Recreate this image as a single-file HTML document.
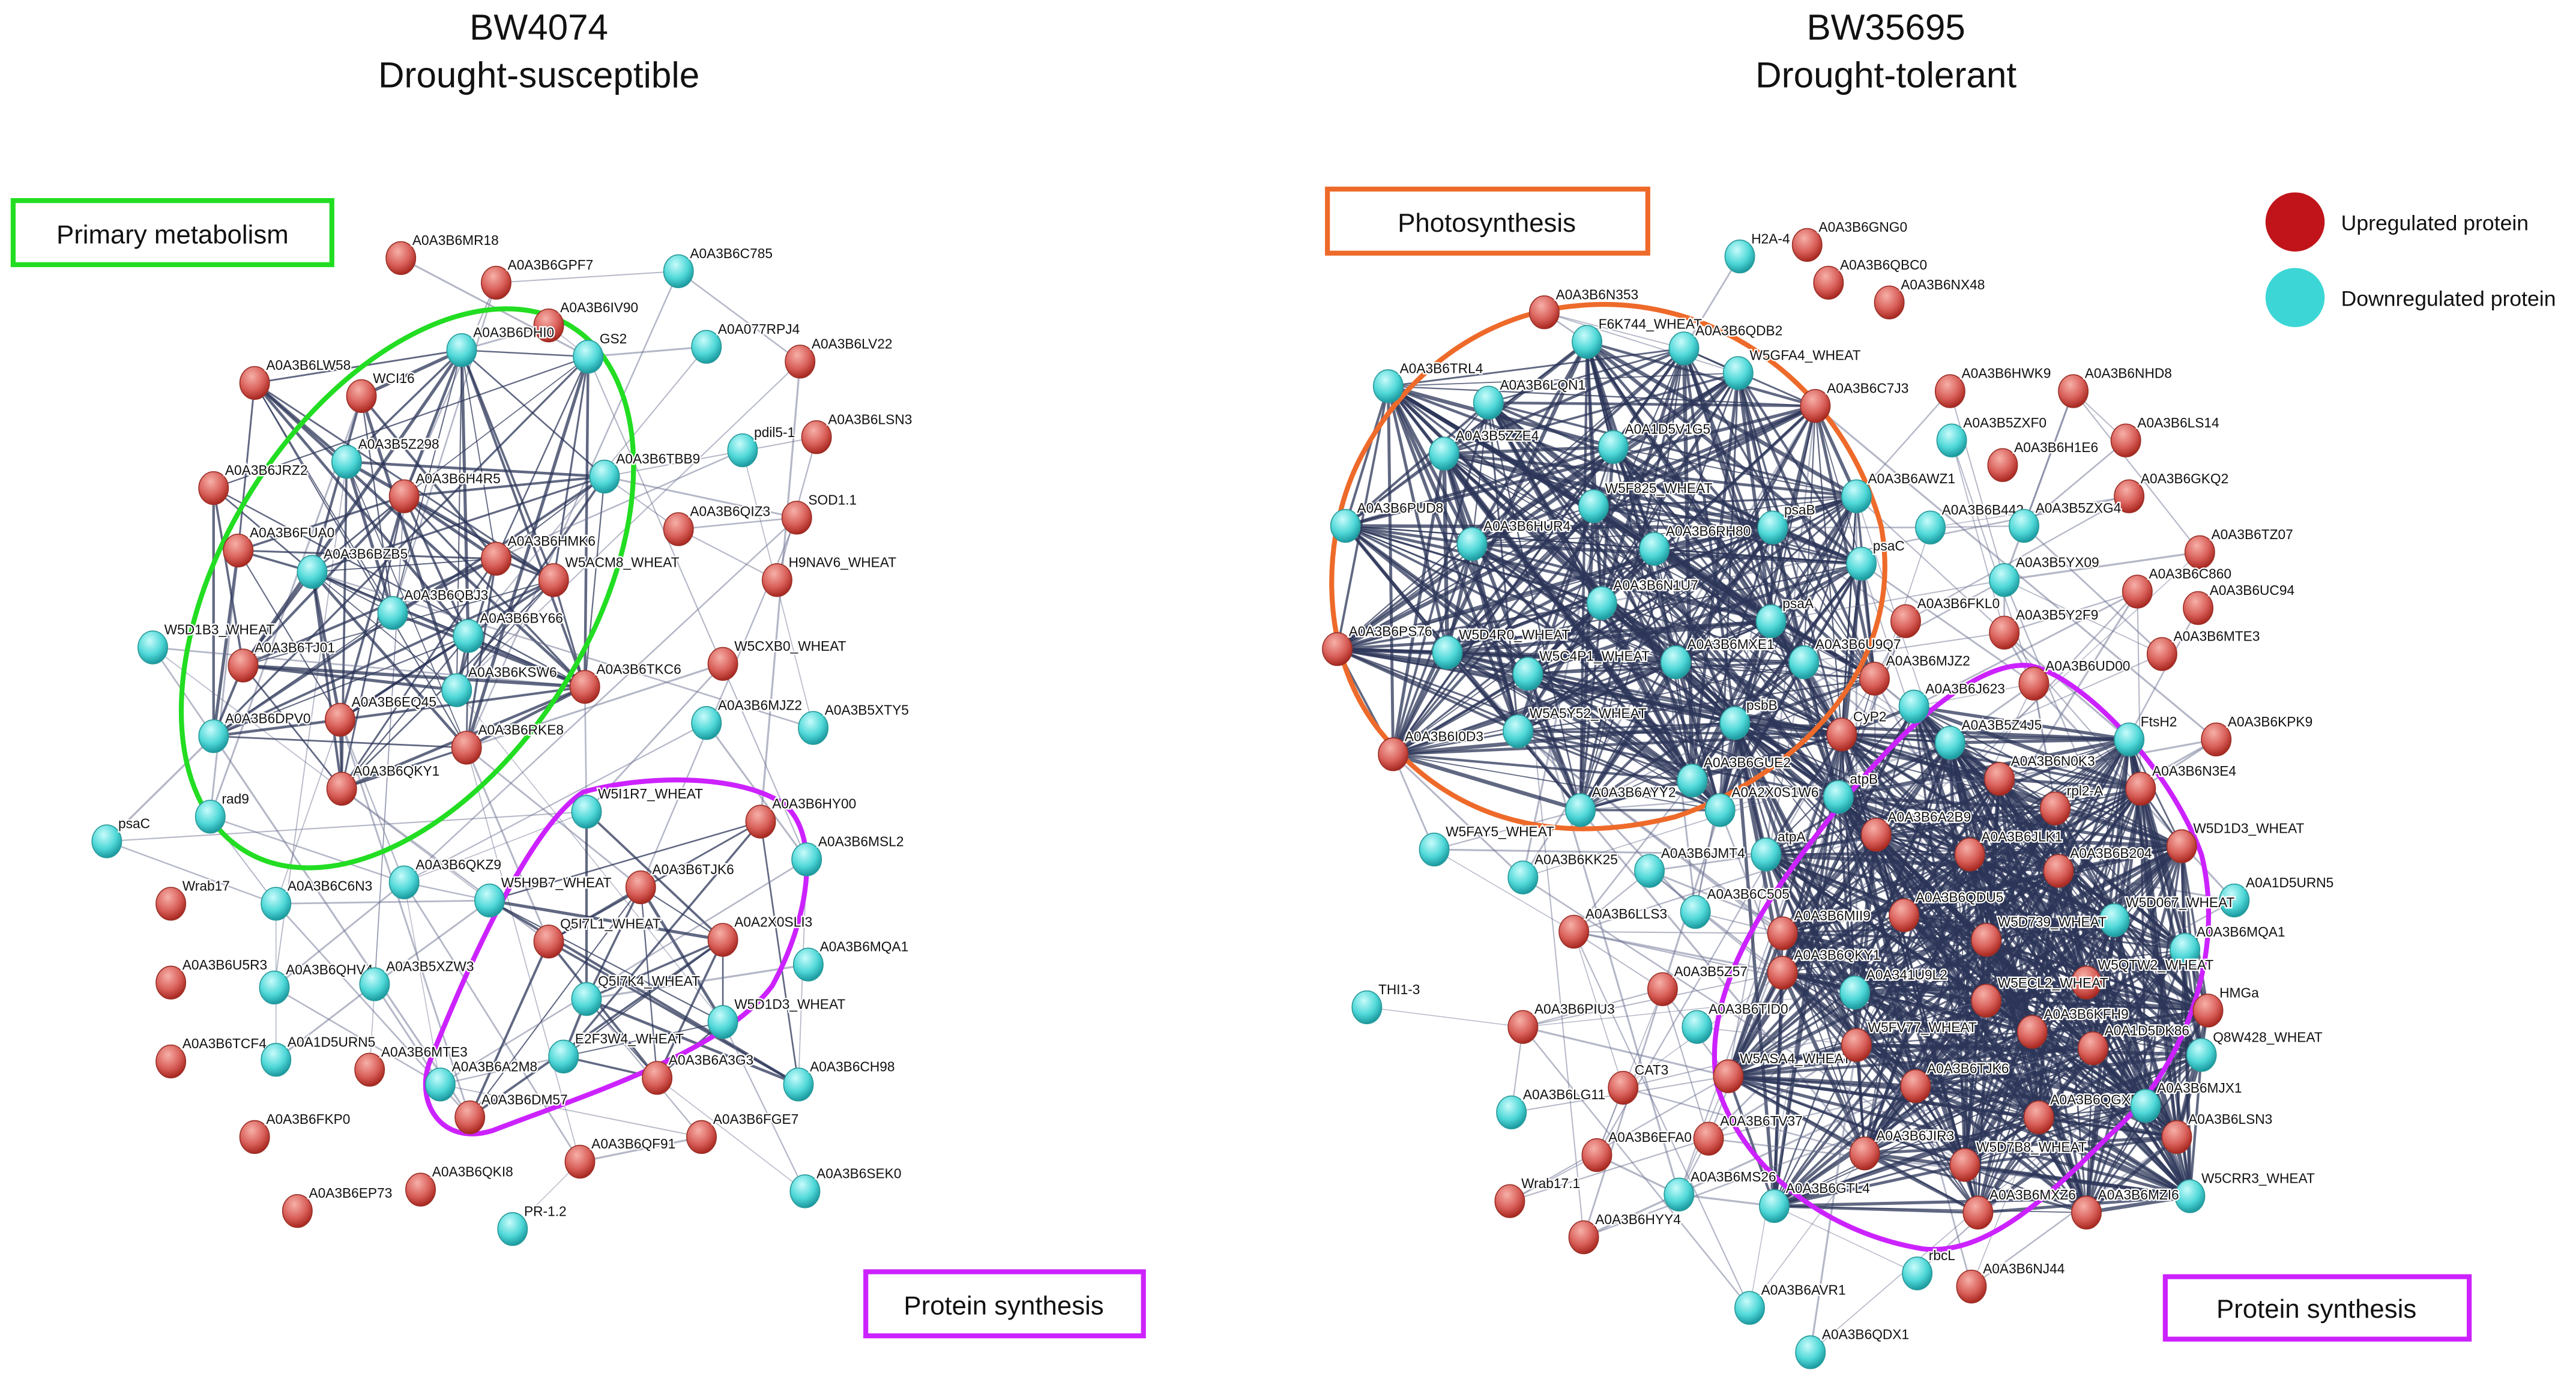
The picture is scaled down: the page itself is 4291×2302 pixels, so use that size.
<!DOCTYPE html>
<html><head><meta charset="utf-8"><style>
html,body{margin:0;padding:0;background:#fff;}
svg{display:block}
text{font-family:"Liberation Sans",sans-serif;}
</style></head><body>
<svg id="s" width="4291" height="2302" viewBox="0 0 1568 841" xmlns="http://www.w3.org/2000/svg">
<defs>
<radialGradient id="gr" cx="0.4" cy="0.3" r="0.7"><stop offset="0" stop-color="#f6b0a8"/><stop offset="0.6" stop-color="#d9605a"/><stop offset="1" stop-color="#a82820"/></radialGradient>
<radialGradient id="gc" cx="0.4" cy="0.3" r="0.7"><stop offset="0" stop-color="#c8fbfb"/><stop offset="0.6" stop-color="#50d8d8"/><stop offset="1" stop-color="#1a9aa0"/></radialGradient>
</defs>
<g id="edges"></g>
<g fill="none" stroke-width="3">
<ellipse cx="248" cy="358" rx="188" ry="112" transform="rotate(-58 248 358)" stroke="#22dd22"/>
<path d="M355,482 C390,472 450,470 478,490 C500,510 492,560 470,600 C440,640 360,665 300,688 C268,698 252,670 262,645 C280,600 320,505 355,482 Z" stroke="#cc22ff"/>
<path d="M960,186 C1040,178 1120,230 1145,320 C1160,400 1100,470 1020,497 C940,517 880,495 840,445 C800,395 805,320 830,275 C860,220 910,190 960,186 Z" stroke="#ee6a2a"/>
<path d="M1235,405 C1265,410 1320,465 1340,520 C1355,580 1330,650 1285,690 C1250,725 1210,765 1170,760 C1110,750 1060,710 1045,660 C1035,600 1080,540 1120,490 C1160,440 1205,402 1235,405 Z" stroke="#cc22ff"/>
</g>
<g id="nodes"></g>
<g font-size="22" text-anchor="middle" fill="#111">
<text x="328" y="24">BW4074</text><text x="328" y="53">Drought-susceptible</text>
<text x="1148" y="24">BW35695</text><text x="1148" y="53">Drought-tolerant</text>
</g>
<g fill="#fff" stroke-width="3">
<rect x="8" y="122" width="194" height="39" stroke="#22dd22"/>
<rect x="808" y="115" width="195" height="39" stroke="#ee6a2a"/>
<rect x="527" y="774" width="169" height="39" stroke="#cc22ff"/>
<rect x="1318" y="777" width="185" height="38" stroke="#cc22ff"/>
</g>
<g font-size="16" text-anchor="middle" fill="#111">
<text x="105" y="148">Primary metabolism</text>
<text x="905" y="141">Photosynthesis</text>
<text x="611" y="800">Protein synthesis</text>
<text x="1410" y="802">Protein synthesis</text>
</g>
<circle cx="1397" cy="135" r="18" fill="#c0141a"/>
<circle cx="1397" cy="181" r="18" fill="#3dd6d6"/>
<text x="1425" y="140" font-size="13" fill="#111">Upregulated protein</text>
<text x="1425" y="186" font-size="13" fill="#111">Downregulated protein</text>
</svg>
<script>
var L=[["A0A3B6MR18",244,157,"r"],["A0A3B6GPF7",302,172,"r"],["A0A3B6C785",413,165,"c"],["A0A3B6IV90",334,198,"r"],["A0A3B6LW58",155,233,"r"],["WCI16",220,241,"r"],["A0A3B6DHI0",281,213,"c"],["GS2",358,217,"c"],["A0A077RPJ4",430,211,"c"],["A0A3B6LV22",487,220,"r"],["A0A3B6JRZ2",130,297,"r"],["A0A3B5Z298",211,281,"c"],["A0A3B6H4R5",246,302,"r"],["A0A3B6TBB9",368,290,"c"],["pdil5-1",452,274,"c"],["A0A3B6LSN3",497,266,"r"],["SOD1.1",485,315,"r"],["A0A3B6FUA0",145,335,"r"],["A0A3B6HMK6",302,340,"r"],["A0A3B6QIZ3",413,322,"r"],["W5ACM8_WHEAT",337,353,"r"],["H9NAV6_WHEAT",473,353,"r"],["A0A3B6BZB5",190,348,"c"],["A0A3B6QBJ3",239,373,"c"],["A0A3B6BY66",285,387,"c"],["W5D1B3_WHEAT",93,394,"c"],["A0A3B6TJ01",148,405,"r"],["A0A3B6KSW6",278,420,"c"],["A0A3B6TKC6",356,418,"r"],["W5CXB0_WHEAT",440,404,"r"],["A0A3B6EQ45",207,438,"r"],["A0A3B6DPV0",130,448,"c"],["A0A3B6RKE8",284,455,"r"],["A0A3B6MJZ2",430,440,"c"],["A0A3B5XTY5",495,443,"c"],["A0A3B6QKY1",208,480,"r"],["psaC",65,512,"c"],["rad9",128,497,"c"],["W5I1R7_WHEAT",357,494,"c"],["A0A3B6HY00",463,500,"r"],["A0A3B6QKZ9",246,537,"c"],["A0A3B6TJK6",390,540,"r"],["A0A3B6MSL2",491,523,"c"],["Wrab17",104,550,"r"],["A0A3B6C6N3",168,550,"c"],["W5H9B7_WHEAT",298,548,"c"],["Q5I7L1_WHEAT",334,573,"r"],["A0A2X0SLI3",440,572,"r"],["A0A3B6QHV4",167,601,"c"],["A0A3B5XZW3",228,599,"c"],["A0A3B6U5R3",104,598,"r"],["A0A3B6MQA1",492,587,"c"],["Q5I7K4_WHEAT",357,608,"c"],["W5D1D3_WHEAT",440,622,"c"],["A0A3B6TCF4",104,646,"r"],["A0A1D5URN5",168,645,"c"],["A0A3B6MTE3",225,651,"r"],["E2F3W4_WHEAT",343,643,"c"],["A0A3B6A2M8",268,660,"c"],["A0A3B6DM57",286,680,"r"],["A0A3B6A3G3",400,656,"r"],["A0A3B6CH98",486,660,"c"],["A0A3B6FKP0",155,692,"r"],["A0A3B6FGE7",427,692,"r"],["A0A3B6QF91",353,707,"r"],["A0A3B6EP73",181,737,"r"],["A0A3B6QKI8",256,724,"r"],["A0A3B6SEK0",490,725,"c"],["PR-1.2",312,748,"c"]];
var R=[["H2A-4",1059,156,"c"],["A0A3B6GNG0",1100,149,"r"],["A0A3B6QBC0",1113,172,"r"],["A0A3B6NX48",1150,184,"r"],["A0A3B6N353",940,190,"r"],["F6K744_WHEAT",966,208,"c"],["A0A3B6QDB2",1025,212,"c"],["W5GFA4_WHEAT",1058,227,"c"],["A0A3B6TRL4",845,235,"c"],["A0A3B6LQN1",906,245,"c"],["A0A3B6C7J3",1105,247,"r"],["A0A3B6HWK9",1187,238,"r"],["A0A3B6NHD8",1262,238,"r"],["A0A3B6LS14",1294,268,"r"],["A0A3B5ZZE4",879,276,"c"],["A0A1D5V1G5",982,272,"c"],["A0A3B5ZXF0",1188,268,"c"],["A0A3B6H1E6",1219,283,"r"],["A0A3B6AWZ1",1130,302,"c"],["A0A3B6GKQ2",1296,302,"r"],["A0A3B6PUD8",819,320,"c"],["W5F825_WHEAT",970,308,"c"],["psaB",1079,321,"c"],["A0A3B6B442",1175,321,"c"],["A0A3B5ZXG4",1232,320,"c"],["A0A3B6HUR4",896,331,"c"],["A0A3B6RH80",1007,334,"c"],["psaC",1133,343,"c"],["A0A3B6TZ07",1339,336,"r"],["A0A3B6N1U7",975,367,"c"],["psaA",1078,378,"c"],["A0A3B5YX09",1220,353,"c"],["A0A3B6C860",1301,360,"r"],["A0A3B6FKL0",1160,378,"r"],["A0A3B6UC94",1338,370,"r"],["A0A3B6PS76",814,395,"r"],["W5D4R0_WHEAT",881,397,"c"],["A0A3B6MXE1",1020,403,"c"],["A0A3B6U9Q7",1098,403,"c"],["A0A3B5Y2F9",1220,385,"r"],["A0A3B6MTE3",1316,398,"r"],["W5C4P1_WHEAT",930,410,"c"],["A0A3B6UD00",1238,416,"r"],["A0A3B6MJZ2",1141,413,"r"],["A0A3B6J623",1165,430,"c"],["A0A3B6KPK9",1349,450,"r"],["psbB",1056,440,"c"],["W5A5Y52_WHEAT",924,445,"c"],["CyP2",1121,447,"r"],["A0A3B6I0D3",848,459,"r"],["A0A3B5Z4J5",1187,452,"c"],["FtsH2",1296,450,"c"],["A0A3B6N0K3",1217,474,"r"],["A0A3B6N3E4",1303,480,"r"],["A0A3B6GUE2",1030,475,"c"],["rpl2-A",1251,492,"r"],["A0A3B6AYY2",962,493,"c"],["atpB",1119,485,"c"],["A0A2X0S1W6",1047,493,"c"],["A0A3B6A2B9",1142,508,"r"],["A0A3B6JLK1",1199,520,"r"],["A0A3B6B204",1253,530,"r"],["W5D1D3_WHEAT",1328,515,"r"],["W5FAY5_WHEAT",873,517,"c"],["A0A3B6JMT4",1004,530,"c"],["atpA",1075,520,"c"],["A0A3B6KK25",927,534,"c"],["A0A1D5URN5",1360,548,"c"],["A0A3B6C505",1032,555,"c"],["A0A3B6QDU5",1159,557,"r"],["W5D067_WHEAT",1287,560,"c"],["A0A3B6LLS3",958,567,"r"],["A0A3B6MII9",1085,568,"r"],["W5D739_WHEAT",1209,572,"r"],["A0A3B6MQA1",1330,578,"c"],["A0A3B6QKY1",1085,592,"r"],["W5QTW2_WHEAT",1270,598,"r"],["A0A3B5Z57",1012,602,"r"],["A0A341U9L2",1129,604,"c"],["HMGa",1344,615,"r"],["THI1-3",832,613,"c"],["A0A3B6PIU3",927,625,"r"],["A0A3B6TID0",1033,625,"c"],["W5ECL2_WHEAT",1209,609,"r"],["A0A3B6KFH9",1237,628,"r"],["Q8W428_WHEAT",1340,642,"c"],["A0A1D5DK86",1274,638,"r"],["W5ASA4_WHEAT",1052,655,"r"],["W5FV77_WHEAT",1130,636,"r"],["A0A3B6TJK6",1166,661,"r"],["A0A3B6QGX5",1241,680,"r"],["A0A3B6MJX1",1306,673,"c"],["A0A3B6LG11",920,677,"c"],["CAT3",988,662,"r"],["A0A3B6TV37",1040,693,"r"],["A0A3B6LSN3",1325,692,"r"],["A0A3B6JIR3",1135,702,"r"],["W5D7B8_WHEAT",1196,709,"r"],["A0A3B6EFA0",972,703,"r"],["W5CRR3_WHEAT",1333,728,"c"],["A0A3B6MS26",1022,727,"c"],["A0A3B6GTL4",1080,734,"c"],["A0A3B6MXZ6",1204,738,"r"],["A0A3B6MZI6",1270,738,"r"],["Wrab17.1",919,731,"r"],["A0A3B6HYY4",964,753,"r"],["rbcL",1167,775,"c"],["A0A3B6NJ44",1200,783,"r"],["A0A3B6AVR1",1065,796,"c"],["A0A3B6QDX1",1102,823,"c"]];
var seed=12345;function rnd(){seed=(seed*1103515245+12345)%2147483648;return seed/2147483648;}
var NS="http://www.w3.org/2000/svg",E=document.getElementById("edges"),N=document.getElementById("nodes");
function inL(x,y){return x>120&&x<380&&y>200&&y<490}
function inP(x,y){return x>280&&x<490&&y>480&&y<690}
function inO(x,y){return x>810&&x<1145&&y>190&&y<500}
function inM(x,y){return x>1050&&x<1345&&y>420&&y<760}
function edges(arr,dense1,dense2,far,pd,wd){
 for(var i=0;i<arr.length;i++)for(var j=i+1;j<arr.length;j++){
  var a=arr[i],b=arr[j],d=Math.hypot(a[1]-b[1],a[2]-b[2]);
  var same=(dense1(a[1],a[2])&&dense1(b[1],b[2]))||(dense2(a[1],a[2])&&dense2(b[1],b[2]));
  var p=same?pd:(d<far?0.2:0.03);
  if(d>350)p=0;
  if(rnd()<p){var l=document.createElementNS(NS,"line");
   l.setAttribute("x1",a[1]);l.setAttribute("y1",a[2]);l.setAttribute("x2",b[1]);l.setAttribute("y2",b[2]);
   var w=same?(0.6+rnd()*wd):(0.5+rnd()*0.7);
   l.setAttribute("stroke",same?"#2c3558":"#6a7090");l.setAttribute("stroke-width",w);l.setAttribute("stroke-opacity",same?0.75:0.5);
   E.appendChild(l);}
 }}
var Lc=L.filter(function(n){return !(n[1]<120&&n[2]>540)&&!(n[2]>680&&(n[1]<270))});
edges(Lc,inL,inP,140,0.42,1.4);
var Rc=R.filter(function(n){return n[2]>185||n[1]<1080});
edges(Rc,inO,inM,130,0.7,1.8);
function nodes(arr){arr.forEach(function(n){
 var e=document.createElementNS(NS,"ellipse");e.setAttribute("cx",n[1]);e.setAttribute("cy",n[2]);e.setAttribute("rx",9);e.setAttribute("ry",10);
 e.setAttribute("fill",n[3]=="r"?"url(#gr)":"url(#gc)");e.setAttribute("stroke",n[3]=="r"?"#9a3028":"#2a9a9a");e.setAttribute("stroke-width",0.6);N.appendChild(e);
 var t=document.createElementNS(NS,"text");t.setAttribute("x",n[1]+7);t.setAttribute("y",n[2]-8);t.setAttribute("font-size","8.3");t.setAttribute("fill","#111");
 t.setAttribute("stroke","#fff");t.setAttribute("stroke-width","1.6");t.setAttribute("paint-order","stroke");t.textContent=n[0];N.appendChild(t);});}
nodes(L);nodes(R);
</script>
</body></html>
